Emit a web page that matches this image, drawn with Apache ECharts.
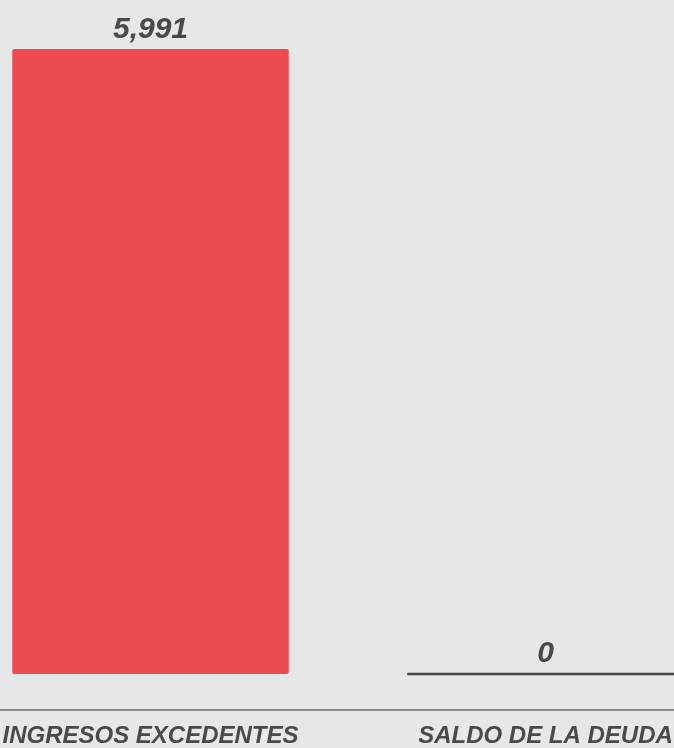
<!DOCTYPE html>
<html>
<head>
<meta charset="utf-8">
<script src="https://cdn.jsdelivr.net/npm/echarts@6/dist/echarts.min.js"></script>
<style>
html,body{margin:0;padding:0;background:#e6e7e9;overflow:hidden;width:674px;height:748px;}
#c{width:790px;height:748px;margin-left:-47px;}
</style>
</head>
<body>
<div id="c"></div>
<script>
const categories = ['INGRESOS EXCEDENTES', 'SALDO DE LA DEUDA'];
const values = [5991, 0];

const chart = echarts.init(document.getElementById('c'));
const font = 'Arial, "Liberation Sans", sans-serif';
chart.setOption({
  backgroundColor: '#e6e7e9',
  animation: false,
  grid: { left: 0, right: 0, top: 49, bottom: 71, containLabel: false },
  xAxis: {
    type: 'category',
    data: categories,
    offset: 36,
    axisLine: { onZero: false, lineStyle: { color: '#6b6b6b', width: 1.5 } },
    axisTick: { show: false },
    axisLabel: {
      interval: 0, hideOverlap: false,
      margin: 14, color: '#4a4a4a', fontSize: 24, fontWeight: 'bold', fontStyle: 'italic', fontFamily: font
    }
  },
  yAxis: {
    type: 'value', min: 0, max: 5991, show: false, splitLine: { show: false }
  },
  series: [{
    type: 'bar',
    barWidth: '70%',
    data: values.map(v => v === 0
      ? { value: v, itemStyle: { color: '#eb4b51', borderColor: '#444444', borderWidth: 2.5, borderRadius: 0 } }
      : { value: v }),
    itemStyle: { color: '#eb4b51', borderRadius: 2 },
    label: {
      show: true, position: 'top', distance: 4,
      color: '#4a4a4a', fontSize: 30, fontWeight: 'bold', fontStyle: 'italic', fontFamily: font,
      formatter: p => p.value.toLocaleString('en-US')
    }
  }]
});
</script>
</body>
</html>
